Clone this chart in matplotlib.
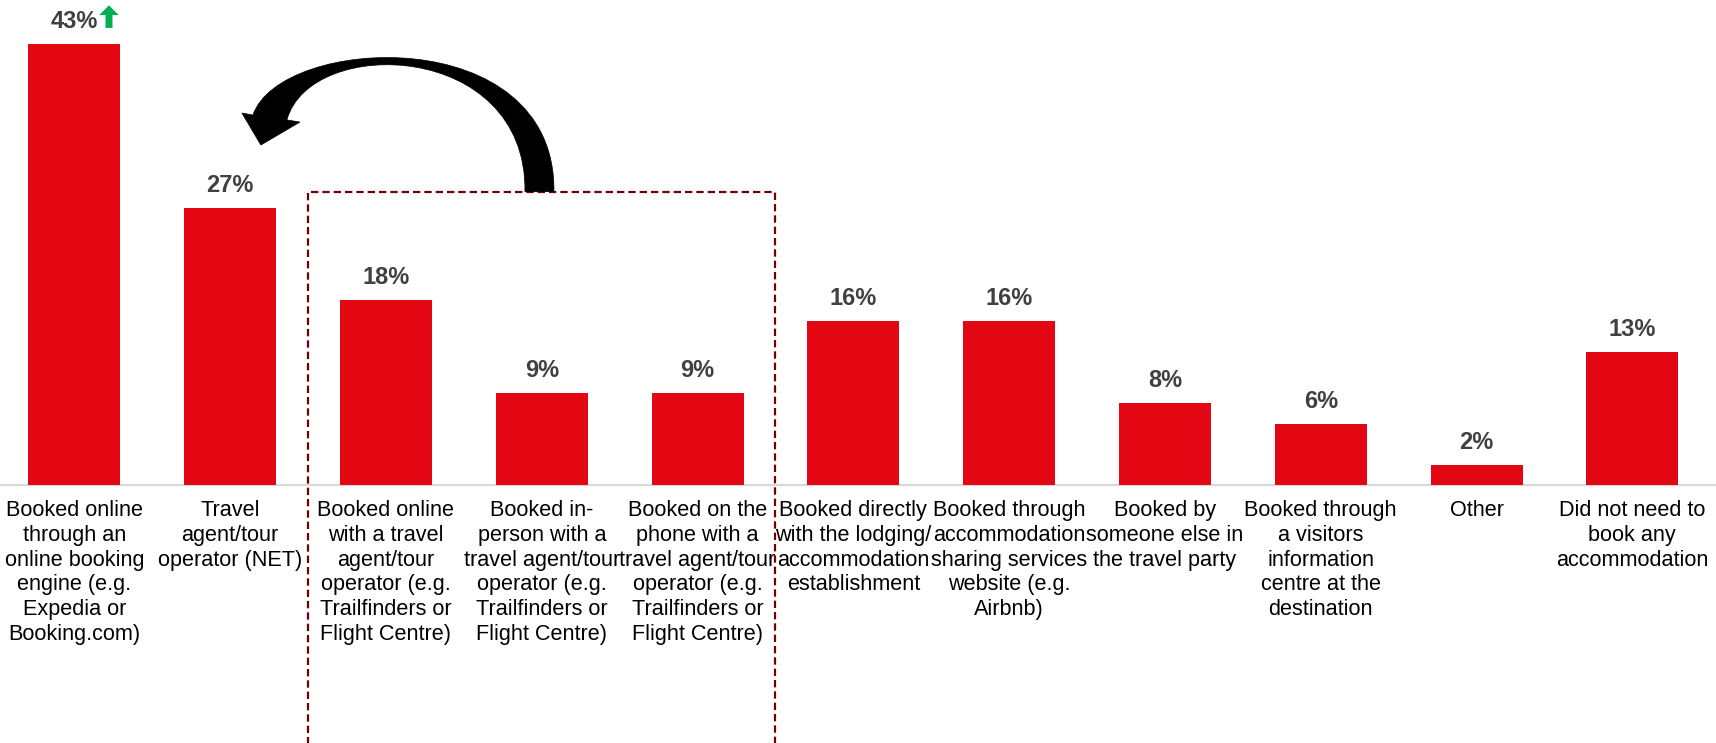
import matplotlib
matplotlib.use("Agg")
import matplotlib.pyplot as plt
from matplotlib.path import Path
from matplotlib.patches import PathPatch, Rectangle

# ── data ─────────────────────────────────────────────────────────────────────
categories = [
    "Booked online\nthrough an\nonline booking\nengine (e.g.\nExpedia or\nBooking.com)",
    "Travel\nagent/tour\noperator (NET)",
    "Booked online\nwith a travel\nagent/tour\noperator (e.g.\nTrailfinders or\nFlight Centre)",
    "Booked in-\nperson with a\ntravel agent/tour\noperator (e.g.\nTrailfinders or\nFlight Centre)",
    "Booked on the\nphone with a\ntravel agent/tour\noperator (e.g.\nTrailfinders or\nFlight Centre)",
    "Booked directly\nwith the lodging/\naccommodation\nestablishment",
    "Booked through\naccommodation\nsharing services\nwebsite (e.g.\nAirbnb)",
    "Booked by\nsomeone else in\nthe travel party",
    "Booked through\na visitors\ninformation\ncentre at the\ndestination",
    "Other",
    "Did not need to\nbook any\naccommodation",
]
values = [43, 27, 18, 9, 9, 16, 16, 8, 6, 2, 13]
labels = [f"{v}%" for v in values]
highlight_start, highlight_end = 2, 4   # bars inside the dashed box
trend_up_index = 0                      # bar with the green up arrow

RED = "#e30613"
LABEL_GREY = "#404040"
BOX_RED = "#720000"
GREEN = "#00b050"
FONT = "Liberation Sans"

fig = plt.figure(figsize=(17.16, 7.43), dpi=100)
ax = fig.add_axes([0, 0.347, 1, 0.653])

x = list(range(len(values)))
ax.bar(x, values, width=0.59, color=RED, zorder=3)

for xi, v, lab in zip(x, values, labels):
    ax.annotate(lab, xy=(xi, v), xytext=(0, 11.5), textcoords="offset points",
                ha="center", va="baseline", fontsize=17, fontweight="bold",
                color=LABEL_GREY, family=FONT)

ax.set_xlim(-0.4775, 10.537)
ax.set_ylim(0, 47.27)
ax.set_xticks(x)
ax.set_xticklabels(categories, fontsize=15.6, family=FONT, color="black",
                   linespacing=1.23)
ax.tick_params(axis="x", length=0, pad=11)
ax.set_yticks([])
for side in ["top", "left", "right"]:
    ax.spines[side].set_visible(False)
ax.spines["bottom"].set_color("#d9d9d9")
ax.spines["bottom"].set_linewidth(1.6)

# green "up" arrow next to the first label
ax.annotate("", xy=(trend_up_index + 0.222, 46.75), xytext=(trend_up_index + 0.222, 44.55),
            arrowprops=dict(arrowstyle="simple,head_length=0.5,head_width=1.0,tail_width=0.36",
                            color=GREEN, lw=0, shrinkA=0, shrinkB=0, mutation_scale=14),
            annotation_clip=False)

# dashed highlight box around the travel-agent bars
box_top = 28.6
ax.add_patch(Rectangle((highlight_start - 0.5, -40), highlight_end - highlight_start + 1,
                       box_top + 40, fill=False, edgecolor=BOX_RED, lw=1.6,
                       linestyle=(0, (3.3, 1.8)), clip_on=False, zorder=4))

# curved black arrow from the box towards the travel agent bar
verts = [
    (3.078, box_top), (3.091, 45.32), (1.320, 43.86), (1.146, 36.06),   # outer edge
    (1.075, 36.26), (1.197, 33.14), (1.448, 35.38),                      # head
    (1.364, 35.58), (1.512, 43.86), (2.905, 43.37), (2.892, box_top),    # inner edge
    (3.078, box_top),
]
codes = [Path.MOVETO, Path.CURVE4, Path.CURVE4, Path.CURVE4,
         Path.LINETO, Path.LINETO, Path.LINETO,
         Path.LINETO, Path.CURVE4, Path.CURVE4, Path.CURVE4,
         Path.CLOSEPOLY]
ax.add_patch(PathPatch(Path(verts, codes), facecolor="black", edgecolor="black",
                       lw=0.5, clip_on=False, zorder=5))

fig.savefig("out.png", dpi=100)
